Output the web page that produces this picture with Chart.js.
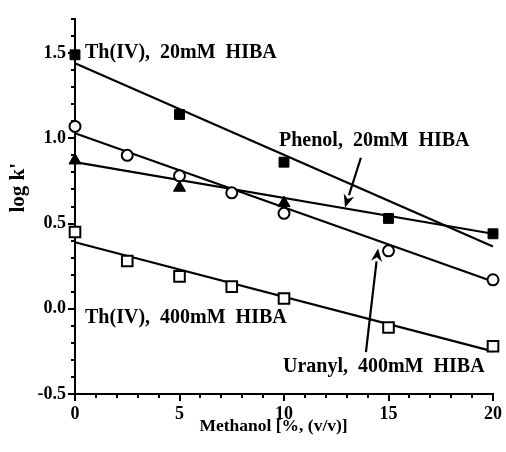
<!DOCTYPE html>
<html>
<head>
<meta charset="utf-8">
<script src="https://cdn.jsdelivr.net/npm/chart.js@4/dist/chart.umd.min.js"></script>
<style>
  html, body { margin: 0; padding: 0; background: #fff; }
  #wrap { width: 506px; height: 452px; position: relative; }
</style>
</head>
<body>
<div id="wrap"><canvas id="c" width="506" height="452"></canvas></div>
<script>
// ---- data ----
const th20X = [0, 5, 10];
const th20Y = [1.49, 1.14, 0.86];
const phenolX = [0, 5, 10, 15, 20];
const phenolY = [0.87, 0.71, 0.62, 0.53, 0.44];
const phenolMarkers = ['triangle', 'triangle', 'triangle', 'rect', 'rect'];
const uranylX = [0, 2.5, 5, 7.5, 10, 15, 20];
const uranylY = [1.07, 0.90, 0.78, 0.68, 0.56, 0.34, 0.17];
const th400X = [0, 2.5, 5, 7.5, 10, 15, 20];
const th400Y = [0.45, 0.28, 0.19, 0.13, 0.06, -0.11, -0.22];

// fitted lines (value at 0 % and 20 % methanol)
const fitX = [0, 20];
const th20Fit = [1.44, 0.365];
const phenolFit = [0.86, 0.44];
const uranylFit = [1.03, 0.16];
const th400Fit = [0.39, -0.25];

// axis settings
const xMin = 0, xMax = 20, xStep = 1, xMajor = 5;
const yMin = -0.5, yMax = 1.7, yStep = 0.1, yMajor = 0.5;
const xTitle = 'Methanol [%, (v/v)]';
const yTitle = "log k'";

// annotations (data coordinates)
const noteTexts = ['Th(IV),  20mM  HIBA', 'Phenol,  20mM  HIBA', 'Th(IV),  400mM  HIBA', 'Uranyl,  400mM  HIBA'];
const noteX = [0.48, 9.76, 0.48, 9.95];
const noteY = [1.5, 0.985, -0.055, -0.34];
const arrowFromX = [13.68, 13.92];
const arrowFromY = [0.886, -0.254];
const arrowToX = [12.92, 14.5];
const arrowToY = [0.594, 0.354];

const FONT = "'Liberation Serif', 'Times New Roman', serif";

function pts(xs, ys) { return xs.map((x, i) => ({ x: x, y: ys[i] })); }
function isMajor(v, step) { return Math.abs(v / step - Math.round(v / step)) < 1e-6; }

const extras = {
  id: 'extras',
  afterDraw(chart) {
    const { ctx, chartArea, scales } = chart;
    const xs = scales.x, ys = scales.y;
    ctx.save();
    ctx.strokeStyle = '#000';
    ctx.fillStyle = '#000';
    ctx.lineWidth = 2;
    // ticks
    ys.ticks.forEach(t => {
      const py = Math.round(ys.getPixelForValue(t.value));
      const len = isMajor(t.value, yMajor) ? 7 : 4;
      ctx.beginPath();
      ctx.moveTo(chartArea.left, py);
      ctx.lineTo(chartArea.left - len, py);
      ctx.stroke();
    });
    xs.ticks.forEach(t => {
      const px = Math.round(xs.getPixelForValue(t.value));
      const len = isMajor(t.value, xMajor) ? 7 : 4;
      ctx.beginPath();
      ctx.moveTo(px, chartArea.bottom);
      ctx.lineTo(px, chartArea.bottom + len);
      ctx.stroke();
    });
    // annotations
    ctx.font = 'bold 20px ' + FONT;
    ctx.textAlign = 'left';
    ctx.textBaseline = 'middle';
    noteTexts.forEach((txt, i) => {
      ctx.fillText(txt, xs.getPixelForValue(noteX[i]), ys.getPixelForValue(noteY[i]));
    });
    // arrows
    arrowFromX.forEach((fx, i) => {
      const x1 = xs.getPixelForValue(fx), y1 = ys.getPixelForValue(arrowFromY[i]);
      const x2 = xs.getPixelForValue(arrowToX[i]), y2 = ys.getPixelForValue(arrowToY[i]);
      const ang = Math.atan2(y2 - y1, x2 - x1);
      const hl = 13, hw = 5.5;
      const bx = x2 - hl * Math.cos(ang), by = y2 - hl * Math.sin(ang);
      ctx.lineWidth = 2.2;
      ctx.beginPath();
      ctx.moveTo(x1, y1);
      ctx.lineTo(bx, by);
      ctx.stroke();
      ctx.beginPath();
      ctx.moveTo(x2, y2);
      ctx.lineTo(bx + hw * Math.sin(ang), by - hw * Math.cos(ang));
      ctx.lineTo(x2 - (hl - 4) * Math.cos(ang), y2 - (hl - 4) * Math.sin(ang));
      ctx.lineTo(bx - hw * Math.sin(ang), by + hw * Math.cos(ang));
      ctx.closePath();
      ctx.fill();
    });
    // axis titles
    ctx.font = 'bold 17.5px ' + FONT;
    ctx.textAlign = 'center';
    ctx.textBaseline = 'alphabetic';
    ctx.fillText(xTitle, chartArea.left + (chartArea.right - chartArea.left) * 0.475, chartArea.bottom + 37);
    ctx.save();
    ctx.translate(chartArea.left - 51, chartArea.top + (chartArea.bottom - chartArea.top) * 0.45);
    ctx.rotate(-Math.PI / 2);
    ctx.font = 'bold 21px ' + FONT;
    ctx.fillText(yTitle, 0, 0);
    ctx.restore();
    ctx.restore();
  }
};

const open = { backgroundColor: '#fff', borderColor: '#000', borderWidth: 2 };
const filled = { backgroundColor: '#000', borderColor: '#000', borderWidth: 1 };

new Chart(document.getElementById('c'), {
  type: 'scatter',
  data: {
    datasets: [
      Object.assign({ label: 'Th(IV) 20mM HIBA', data: pts(th20X, th20Y), pointStyle: 'rect', pointRadius: 7, order: 1, clip: false }, filled),
      Object.assign({ label: 'Phenol 20mM HIBA', data: pts(phenolX, phenolY), pointStyle: phenolMarkers, pointRadius: [7, 7, 7, 7, 7], order: 1, clip: false }, filled),
      Object.assign({ label: 'Uranyl 400mM HIBA', data: pts(uranylX, uranylY), pointStyle: 'circle', pointRadius: 5.5, order: 1, clip: false }, open),
      Object.assign({ label: 'Th(IV) 400mM HIBA', data: pts(th400X, th400Y), pointStyle: 'rect', pointRadius: 7.5, order: 1, clip: false }, open),
      { label: 'fit1', data: pts(fitX, th20Fit), showLine: true, pointRadius: 0, borderColor: '#000', borderWidth: 2.2, order: 2, clip: false },
      { label: 'fit2', data: pts(fitX, phenolFit), showLine: true, pointRadius: 0, borderColor: '#000', borderWidth: 2.2, order: 2, clip: false },
      { label: 'fit3', data: pts(fitX, uranylFit), showLine: true, pointRadius: 0, borderColor: '#000', borderWidth: 2.2, order: 2, clip: false },
      { label: 'fit4', data: pts(fitX, th400Fit), showLine: true, pointRadius: 0, borderColor: '#000', borderWidth: 2.2, order: 2, clip: false }
    ]
  },
  options: {
    responsive: false,
    animation: false,
    events: [],
    layout: { padding: { top: 19, right: 13, left: 0, bottom: 0 } },
    plugins: { legend: { display: false }, tooltip: { enabled: false } },
    scales: {
      x: {
        type: 'linear', min: xMin, max: xMax,
        afterFit(s) { s.height = 58; s.paddingLeft = 0; s.paddingRight = 0; },
        grid: { display: false, drawTicks: false },
        border: { display: true, color: '#000', width: 2 },
        ticks: {
          stepSize: xStep, autoSkip: false, maxRotation: 0, padding: 10,
          color: '#000', font: { family: FONT, size: 18, weight: 'bold' },
          callback: v => isMajor(v, xMajor) ? String(Math.round(v)) : ''
        }
      },
      y: {
        type: 'linear', min: yMin, max: yMax,
        afterFit(s) { s.width = 75; s.paddingTop = 0; s.paddingBottom = 0; },
        grid: { display: false, drawTicks: false },
        border: { display: true, color: '#000', width: 2 },
        ticks: {
          stepSize: yStep, autoSkip: false, padding: 9,
          color: '#000', font: { family: FONT, size: 18, weight: 'bold' },
          callback: v => isMajor(v, yMajor) ? v.toFixed(1) : ''
        }
      }
    }
  },
  plugins: [extras]
});
</script>
</body>
</html>
